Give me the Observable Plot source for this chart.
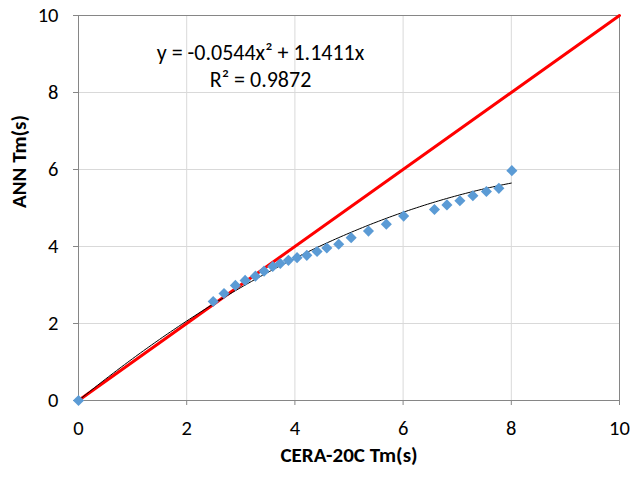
<!DOCTYPE html>
<html><head><meta charset="utf-8">
<script src="https://cdn.jsdelivr.net/npm/d3@7"></script>
<script src="https://cdn.jsdelivr.net/npm/@observablehq/plot@0.6"></script>
<style>
body{margin:0;background:#fff;font-family:Carlito,"Open Sans","Liberation Sans",sans-serif;}
svg text{font-family:Carlito,"Open Sans","Liberation Sans",sans-serif;}
</style></head><body><div id="chart"></div>
<script>
const ceraTm = [0, 2.49, 2.69, 2.90, 3.08, 3.27, 3.43, 3.59, 3.73, 3.88, 4.04, 4.22, 4.41, 4.59, 4.81, 5.04, 5.36, 5.69, 6.01, 6.58, 6.81, 7.05, 7.29, 7.54, 7.77, 8.01];
const annTm  = [0, 2.57, 2.78, 2.99, 3.12, 3.23, 3.36, 3.48, 3.56, 3.64, 3.71, 3.77, 3.87, 3.96, 4.06, 4.23, 4.40, 4.58, 4.79, 4.96, 5.08, 5.19, 5.32, 5.43, 5.51, 5.97];
const trendCoef = [-0.0544, 1.1411]; // a*x^2 + b*x
const trendRange = [0, 8];
const oneToOne = [[0, 0], [10, 10]];
const xTicks = [0, 2, 4, 6, 8, 10];
const yTicks = [0, 2, 4, 6, 8, 10];
const eqText = "y = -0.0544x² + 1.1411x";
const r2Text = "R² = 0.9872";

const points = ceraTm.map((x, i) => ({x, y: annTm[i]}));
const trend = d3.range(0, 161).map(i => {
  const x = trendRange[0] + (trendRange[1] - trendRange[0]) * i / 160;
  return {x, y: trendCoef[0] * x * x + trendCoef[1] * x};
});
const ref = oneToOne.map(([x, y]) => ({x, y}));

const chart = Plot.plot({
  width: 630, height: 477,
  marginLeft: 78, marginRight: 11, marginTop: 15, marginBottom: 77,
  style: {fontSize: "20px", fontFamily: "Carlito,'Open Sans','Liberation Sans',sans-serif", color: "#000"},
  x: {domain: [0, 10], label: null},
  y: {domain: [0, 10], label: null},
  marks: [
    Plot.gridX(xTicks, {stroke: "#d9d9d9", strokeOpacity: 1, strokeWidth: 1}),
    Plot.gridY(yTicks, {stroke: "#d9d9d9", strokeOpacity: 1, strokeWidth: 1}),
    Plot.axisX(xTicks, {tickSize: 5, tickPadding: 15, stroke: "#868686", fill: "#000", fontSize: 20.5, label: null}),
    Plot.axisY(yTicks, {tickSize: 5, tickPadding: 15, stroke: "#868686", fill: "#000", fontSize: 20.5, label: null}),
    Plot.frame({stroke: "#868686", strokeWidth: 1}),
    Plot.line(ref, {x: "x", y: "y", stroke: "#ff0000", strokeWidth: 3}),
    Plot.line(trend, {x: "x", y: "y", stroke: "#000", strokeWidth: 1}),
    Plot.dot(points, {x: "x", y: "y", symbol: "diamond2", r: 5, fill: "#5b9bd5", stroke: "none"}),
    Plot.text([eqText], {frameAnchor: "top-left", dx: 182, dy: 29, text: d => d, fontSize: 22, textAnchor: "middle", fill: "#000"}),
    Plot.text([r2Text], {frameAnchor: "top-left", dx: 182, dy: 56, text: d => d, fontSize: 22, textAnchor: "middle", fill: "#000"}),
    Plot.text(["CERA-20C Tm(s)"], {frameAnchor: "bottom", dy: 61, text: d => d, fontSize: 21, fontWeight: "bold", fill: "#000"}),
    Plot.text(["ANN Tm(s)"], {frameAnchor: "left", dx: -59, rotate: -90, text: d => d, fontSize: 21, fontWeight: "bold", fill: "#000"})
  ]
});
document.getElementById("chart").appendChild(chart);
</script></body></html>
